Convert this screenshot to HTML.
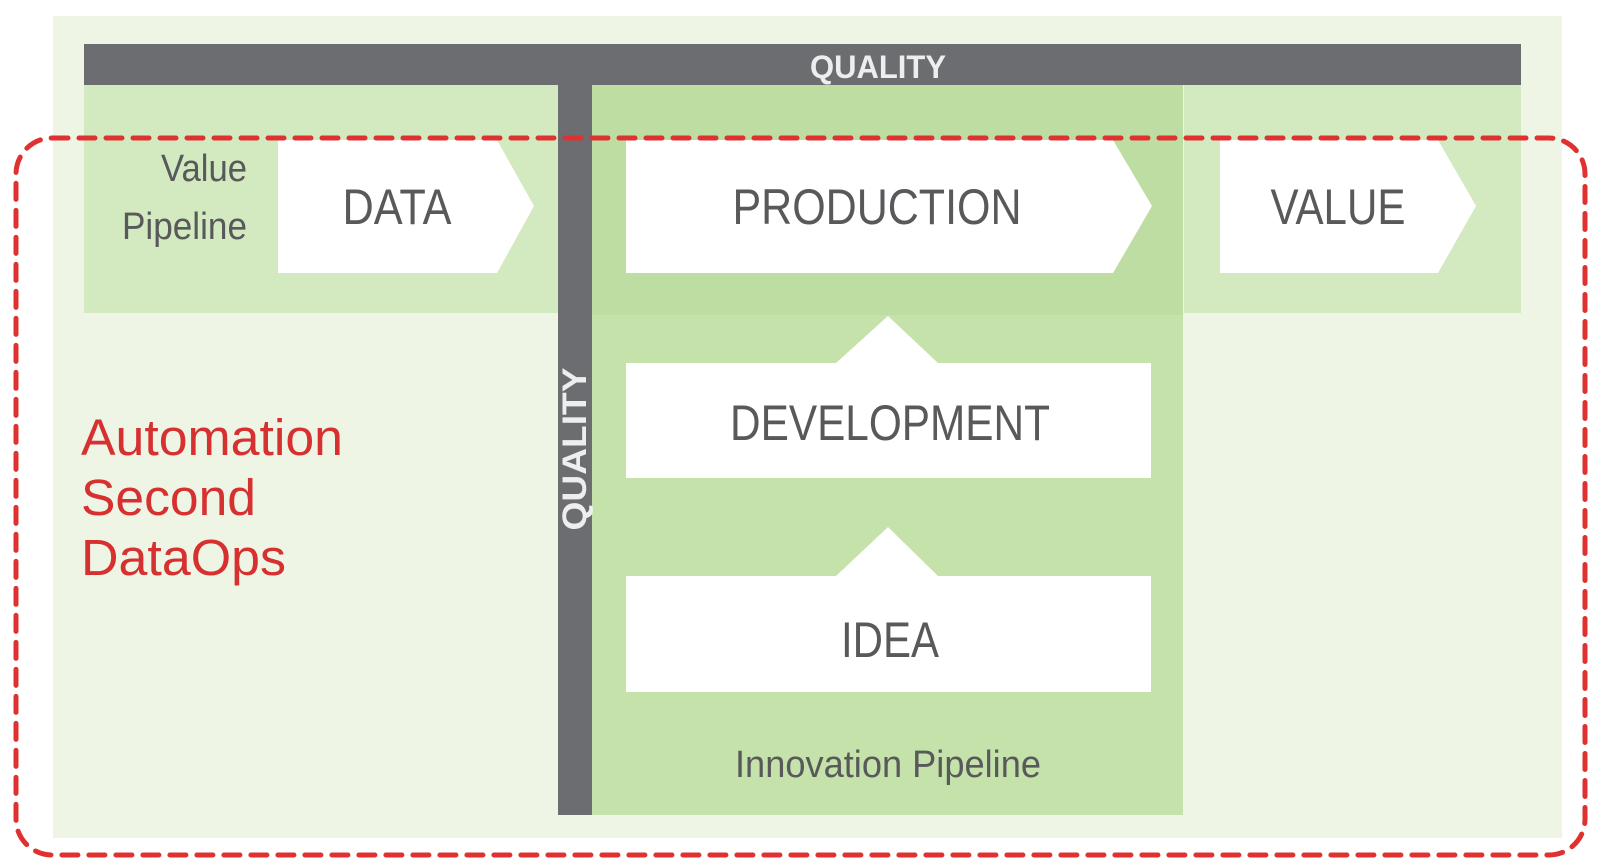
<!DOCTYPE html>
<html><head><meta charset="utf-8"><style>
html,body{margin:0;padding:0;background:#fff;width:1600px;height:868px;overflow:hidden}
</style></head><body>
<svg width="1600" height="868" viewBox="0 0 1600 868" xmlns="http://www.w3.org/2000/svg" font-family="'Liberation Sans',sans-serif">
<rect x="53" y="16" width="1509" height="822" fill="#eef5e5"/>
<rect x="84" y="85" width="474" height="228" fill="#d3e9c0"/>
<rect x="1184" y="85" width="337" height="228" fill="#d3e9c0"/>
<rect x="592" y="85" width="591" height="730" fill="#c5e2aa"/>
<rect x="592" y="85" width="591" height="230" fill="#bedda2"/>
<rect x="84" y="44" width="1437" height="41" fill="#6b6d70"/>
<rect x="558" y="85" width="34" height="730" fill="#6b6d70"/>
<text x="878" y="78" text-anchor="middle" font-size="32" fill="#eee" font-weight="bold" textLength="136" lengthAdjust="spacingAndGlyphs">QUALITY</text>
<text transform="translate(586,449) rotate(-90)" text-anchor="middle" font-size="34" fill="#eee" font-weight="bold" textLength="163" lengthAdjust="spacingAndGlyphs">QUALITY</text>
<polygon points="278,140 497,140 534,206 497,273 278,273" fill="#fff"/>
<polygon points="626,140 1113,140 1152,206 1113,273 626,273" fill="#fff"/>
<polygon points="1220,140 1438,140 1476,206 1438,273 1220,273" fill="#fff"/>
<polygon points="626,363 836,363 888,316 938,363 1151,363 1151,478 626,478" fill="#fff"/>
<polygon points="626,576 836,576 888,527 938,576 1151,576 1151,692 626,692" fill="#fff"/>
<g fill="#58595b" text-anchor="middle" lengthAdjust="spacingAndGlyphs">
<text x="397" y="224" font-size="50" textLength="109" lengthAdjust="spacingAndGlyphs">DATA</text>
<text x="877" y="224" font-size="50" textLength="289" lengthAdjust="spacingAndGlyphs">PRODUCTION</text>
<text x="1338" y="224" font-size="50" textLength="135" lengthAdjust="spacingAndGlyphs">VALUE</text>
<text x="890" y="440" font-size="50" textLength="320" lengthAdjust="spacingAndGlyphs">DEVELOPMENT</text>
<text x="890" y="657" font-size="50" textLength="98" lengthAdjust="spacingAndGlyphs">IDEA</text>
<text x="888" y="777" font-size="38" textLength="306" lengthAdjust="spacingAndGlyphs">Innovation Pipeline</text>
<text x="247" y="181" font-size="38" text-anchor="end" textLength="86" lengthAdjust="spacingAndGlyphs">Value</text>
<text x="247" y="239" font-size="38" text-anchor="end" textLength="125" lengthAdjust="spacingAndGlyphs">Pipeline</text>
</g>
<g fill="#d63030" font-size="51">
<text x="81" y="455" textLength="262" lengthAdjust="spacingAndGlyphs">Automation</text>
<text x="81" y="515" textLength="175" lengthAdjust="spacingAndGlyphs">Second</text>
<text x="81" y="575" textLength="205" lengthAdjust="spacingAndGlyphs">DataOps</text>
</g>
<rect x="16" y="138" width="1569" height="717" rx="36" fill="none" stroke="#e03131" stroke-width="5" stroke-dasharray="16 11" stroke-linecap="round"/>
</svg>
</body></html>
